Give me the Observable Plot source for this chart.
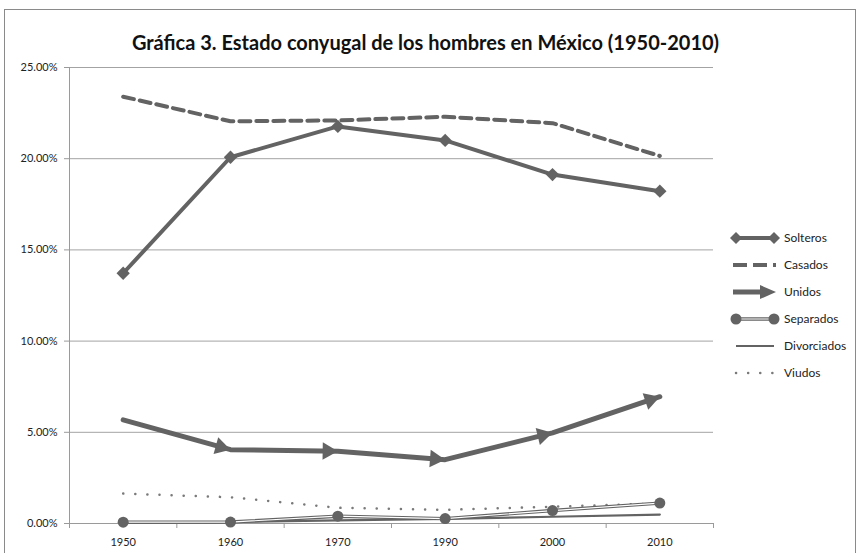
<!DOCTYPE html>
<html>
<head>
<meta charset="utf-8">
<script src="https://cdn.jsdelivr.net/npm/d3@7"></script>
<script src="https://cdn.jsdelivr.net/npm/@observablehq/plot@0.6"></script>
<style>
  html, body { margin: 0; padding: 0; background: #fff; }
  #wrap { position: relative; width: 861px; height: 553px; overflow: hidden; font-family: Lato, sans-serif; }
  #border { position: absolute; left: 4px; top: 9px; width: 852px; height: 560px; border: 1px solid #8a8a8a; box-sizing: border-box; }
  #title { position: absolute; left: 0; top: 30px; width: 851px; text-align: center; font-weight: bold; font-size: 20px; color: #111; }
  #chart { position: absolute; left: 0; top: 0; }
  #legend { position: absolute; left: 730px; top: 224px; font-size: 12px; color: #222; }
  .row { display: flex; align-items: center; height: 27px; }
  .row svg { width: 50px; height: 18px; margin-right: 4px; }
</style>
</head>
<body>
<div id="wrap">
  <div id="border"></div>
  <div id="chart"></div>
  <div id="title">Gráfica 3. Estado conyugal de los hombres en México (1950-2010)</div>
  <div id="legend"></div>
</div>
<script>
// ---- data (percent) ----
const years = ["1950", "1960", "1970", "1990", "2000", "2010"];
const solteros    = [13.72, 20.08, 21.77, 21.00, 19.13, 18.22];
const casados     = [23.40, 22.05, 22.10, 22.30, 21.95, 20.15];
const unidos      = [5.68, 4.05, 3.96, 3.50, 4.97, 6.95];
const separados   = [0.07, 0.08, 0.40, 0.27, 0.71, 1.12];
const divorciados = [0.04, 0.08, 0.17, 0.25, 0.37, 0.49];
const viudos      = [1.64, 1.44, 0.86, 0.75, 0.92, 1.10];
const yTicks = [0, 5, 10, 15, 20, 25];
const seriesNames = ["Solteros", "Casados", "Unidos", "Separados", "Divorciados", "Viudos"];

const C = "#636363";
const idx = years.map((_, i) => i);
const bounds = years.map((_, i) => i - 0.5).concat([years.length - 0.5]);
const toRows = (vals) => vals.map((v, i) => ({i, v}));

const base = {
  width: 861,
  height: 553,
  marginLeft: 69,
  marginRight: 148,
  marginTop: 67,
  marginBottom: 30,
  style: {fontFamily: "Lato, sans-serif", fontSize: "11px", color: "#222", background: "transparent", overflow: "visible"},
  x: {type: "linear", domain: [-0.5, years.length - 0.5]},
  y: {domain: [0, 25]}
};

// first pass: obtain the scales to orient the arrowheads in screen space
const probe = Plot.plot({...base, marks: [Plot.ruleY([0])]});
const sxo = probe.scale("x"), syo = probe.scale("y");
const sx = sxo.apply ? sxo : Object.assign(sxo, (() => { const s = d3.scaleLinear(sxo.domain, sxo.range); return {apply: s, invert: s.invert}; })());
const sy = syo.apply ? syo : Object.assign(syo, (() => { const s = d3.scaleLinear(syo.domain, syo.range); return {apply: s, invert: s.invert}; })());

const headR = 6.5;
const tipDist = 2 * Math.sqrt(Math.PI * headR * headR / (Math.sqrt(3) * 3));
const heads = unidos.slice(1).map((v, k) => {
  const px1 = sx.apply(k), py1 = sy.apply(unidos[k]);
  const px2 = sx.apply(k + 1), py2 = sy.apply(v);
  const a = Math.atan2(py2 - py1, px2 - px1);
  const cx = px2 - tipDist * Math.cos(a), cy = py2 - tipDist * Math.sin(a);
  return {x: sx.invert(cx), y: sy.invert(cy), rot: a * 180 / Math.PI + 90};
});

const chart = Plot.plot({
  ...base,
  marks: [
    Plot.gridY(yTicks, {stroke: "#a3a3a3", strokeOpacity: 1}),
    Plot.ruleX([-0.5], {stroke: "#9a9a9a"}),
    Plot.ruleY([0], {stroke: "#9a9a9a"}),
    Plot.axisY({ticks: yTicks, tickFormat: d => d.toFixed(2) + "%", tickSize: 5, tickPadding: 7, label: null, stroke: "#9a9a9a", fill: "#222"}),
    Plot.axisX({ticks: bounds, tickFormat: () => "", tickSize: 5, label: null, stroke: "#9a9a9a"}),
    Plot.axisX({ticks: idx, tickFormat: i => years[i], tickSize: 0, tickPadding: 15, label: null, fill: "#222"}),
    // Viudos (dotted)
    Plot.line(toRows(viudos), {x: "i", y: "v", stroke: "#7a7a7a", strokeWidth: 2.5, strokeDasharray: "0.1,12", strokeLinecap: "round"}),
    // Divorciados
    Plot.line(toRows(divorciados), {x: "i", y: "v", stroke: C, strokeWidth: 2.2}),
    // Separados (double line + circles)
    Plot.line(toRows(separados), {x: "i", y: "v", stroke: C, strokeWidth: 3.4}),
    Plot.line(toRows(separados), {x: "i", y: "v", stroke: "#fff", strokeWidth: 1.2}),
    Plot.dot(toRows(separados), {x: "i", y: "v", r: 5.5, fill: C}),
    // Unidos (line + filled arrowheads)
    Plot.line(toRows(unidos), {x: "i", y: "v", stroke: C, strokeWidth: 5}),
    Plot.dot(heads, {x: "x", y: "y", rotate: "rot", symbol: "triangle", r: headR, fill: C}),
    // Casados (dashed)
    Plot.line(toRows(casados), {x: "i", y: "v", stroke: C, strokeWidth: 4, strokeDasharray: "11,6"}),
    // Solteros (diamonds)
    Plot.line(toRows(solteros), {x: "i", y: "v", stroke: C, strokeWidth: 4}),
    Plot.dot(toRows(solteros), {x: "i", y: "v", symbol: "diamond2", r: 6, fill: C})
  ]
});
document.getElementById("chart").appendChild(chart);

// ---- legend ----
const sym = {
  Solteros: `<line x1="6" y1="9" x2="44" y2="9" stroke="${C}" stroke-width="4"/><path d="M6 3 L12 9 L6 15 L0 9Z" fill="${C}"/><path d="M44 3 L50 9 L44 15 L38 9Z" fill="${C}"/>`,
  Casados: `<line x1="3" y1="9" x2="46" y2="9" stroke="${C}" stroke-width="4" stroke-dasharray="14,6"/>`,
  Unidos: `<line x1="3" y1="9" x2="34" y2="9" stroke="${C}" stroke-width="5"/><path d="M30 2 L46 9 L30 16Z" fill="${C}"/>`,
  Separados: `<line x1="6" y1="9" x2="44" y2="9" stroke="${C}" stroke-width="3.4"/><line x1="6" y1="9" x2="44" y2="9" stroke="#fff" stroke-width="1.2"/><circle cx="6" cy="9" r="5.5" fill="${C}"/><circle cx="44" cy="9" r="5.5" fill="${C}"/>`,
  Divorciados: `<line x1="6" y1="9" x2="44" y2="9" stroke="${C}" stroke-width="2.2"/>`,
  Viudos: `<line x1="6" y1="9" x2="44" y2="9" stroke="#7a7a7a" stroke-width="2.5" stroke-dasharray="0.1,12" stroke-linecap="round"/>`
};
const leg = document.getElementById("legend");
seriesNames.forEach(n => {
  const row = document.createElement("div");
  row.className = "row";
  row.innerHTML = `<svg viewBox="0 0 50 18">${sym[n]}</svg><span>${n}</span>`;
  leg.appendChild(row);
});
</script>
</body>
</html>
